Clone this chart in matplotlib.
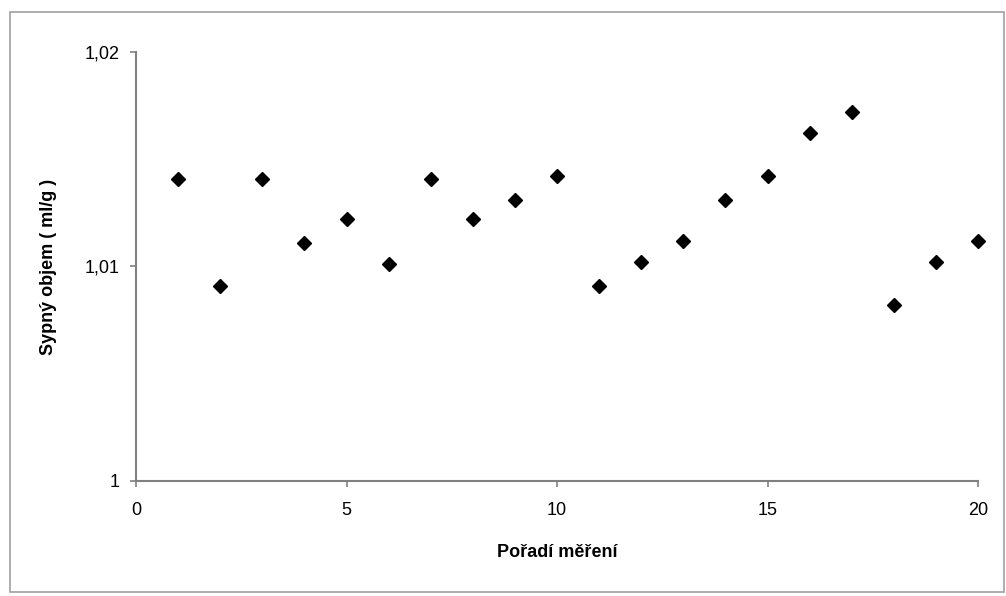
import numpy as np
import matplotlib
matplotlib.use('Agg')
import matplotlib.pyplot as plt
from matplotlib.patches import Rectangle

# measurement order and bulk volume (ml/g)
poradi = list(range(1, 21))
objem = [1.0141, 1.0091, 1.0141, 1.0111, 1.0122, 1.0101, 1.0141, 1.0122, 1.0131, 1.0142,
         1.0091, 1.0102, 1.0112, 1.0131, 1.0142, 1.0162, 1.0172, 1.0082, 1.0102, 1.0112]

x_ticks = [0, 5, 10, 15, 20]
y_ticks = [1.00, 1.01, 1.02]
y_labels = ['1', '1,01', '1,02']

plt.rcParams['font.family'] = ['Liberation Sans', 'DejaVu Sans']

fig = plt.figure(figsize=(10.06, 5.96), dpi=100)
ax = fig.add_axes([0.1352, 0.193, 0.837, 0.7198])

ax.plot(poradi, objem, linestyle='none', marker='D', markersize=7.5,
        color='black', clip_on=False, zorder=3)

ax.set_xlim(0, 20)
ax.set_ylim(1.0, 1.02)
ax.set_xticks(x_ticks)
ax.set_yticks(y_ticks)
ax.set_yticklabels(y_labels)

for s in ['top', 'right']:
    ax.spines[s].set_visible(False)
for s in ['left', 'bottom']:
    ax.spines[s].set_color('#808080')
    ax.spines[s].set_linewidth(1.5)
ax.tick_params(direction='out', length=4, width=1.2, color='#808080', labelsize=13)
ax.tick_params(axis='x', pad=11)
ax.tick_params(axis='y', pad=8)

ax.set_xlabel('Pořadí měření', fontsize=13, fontweight='bold', labelpad=18)
ax.set_ylabel('Sypný objem ( ml/g )', fontsize=13, fontweight='bold', labelpad=20)

# outer chart frame
fig.patches.append(Rectangle((0.010, 0.006), 0.988, 0.974, transform=fig.transFigure,
                             fill=False, edgecolor='#a0a0a0', linewidth=1.2))

fig.savefig('out.png', dpi=100)
